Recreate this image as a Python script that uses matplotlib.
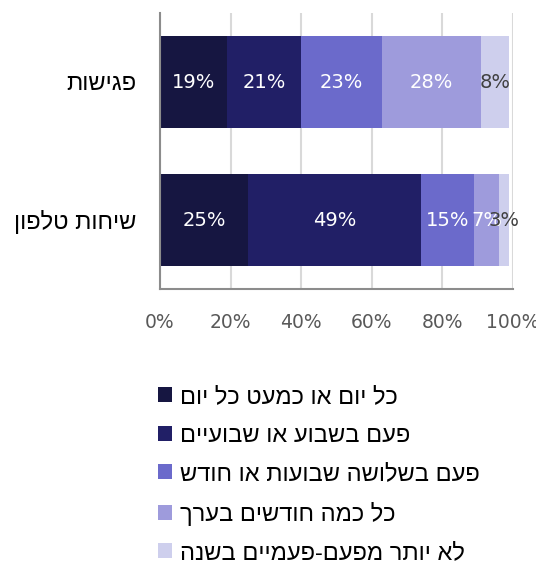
import matplotlib
matplotlib.use("Agg")
import matplotlib.pyplot as plt

plt.rcParams['font.family'] = ['DejaVu Sans']
HEB = ['Liberation Sans', 'DejaVu Sans']

# categories (top to bottom) and frequency buckets
categories = ["פגישות", "שיחות טלפון"]
buckets = [
    "כל יום או כמעט כל יום",
    "פעם בשבוע או שבועיים",
    "פעם בשלושה שבועות או חודש",
    "כל כמה חודשים בערך",
    "לא יותר מפעם-פעמיים בשנה",
]
meetings = [19, 21, 23, 28, 8]
phone_calls = [25, 49, 15, 7, 3]

colors = ["#161641", "#211f66", "#6b6acb", "#9e9bdc", "#cecfed"]
label_colors = ["white", "white", "white", "white", "#404040"]


def rtl(s):
    # matplotlib has no bidi support, so flip Hebrew for display
    return s[::-1]


series = [meetings, phone_calls]
ypos = [1, 0]

fig = plt.figure(figsize=(5.36, 5.62), dpi=100)
ax = fig.add_axes([160 / 536, 1 - 289 / 562, 353 / 536, 276 / 562])

for row, y in zip(series, ypos):
    left = 0
    for i, v in enumerate(row):
        ax.barh(y, v, left=left, height=0.67, color=colors[i],
                label=rtl(buckets[i]) if y == 1 else None, zorder=2)
        c = label_colors[i]
        if y == 0 and i == 3:
            c = "white"
        ax.text(left + v / 2, y, f"{v}%", ha="center", va="center",
                color=c, fontsize=14, zorder=3)
        left += v

ax.set_xlim(0, 100)
ax.set_ylim(-0.5, 1.5)
ax.set_xticks([0, 20, 40, 60, 80, 100])
ax.set_xticklabels([f"{t}%" for t in [0, 20, 40, 60, 80, 100]])
ax.set_yticks(ypos)
ax.set_yticklabels([rtl(c) for c in categories], family=HEB, fontsize=17)
ax.tick_params(axis="x", length=0, pad=17, labelsize=13.5, labelcolor="#595959")
ax.tick_params(axis="y", length=0, pad=17, labelcolor="black")
ax.xaxis.grid(True, color="#d9d9d9", linewidth=1.5, zorder=0)
ax.set_axisbelow(True)
for s in ["top", "right"]:
    ax.spines[s].set_visible(False)
for s in ["left", "bottom"]:
    ax.spines[s].set_color("#8c8c8c")
    ax.spines[s].set_linewidth(1.5)

fig.legend(loc="upper left", bbox_to_anchor=(158 / 536, 1 - 386 / 562),
           frameon=False, prop={'family': HEB, 'size': 17},
           handlelength=0.6, handleheight=0.6,
           handletextpad=0.35, labelspacing=0.7, borderpad=0,
           borderaxespad=0)

fig.savefig("out.png", dpi=100)
